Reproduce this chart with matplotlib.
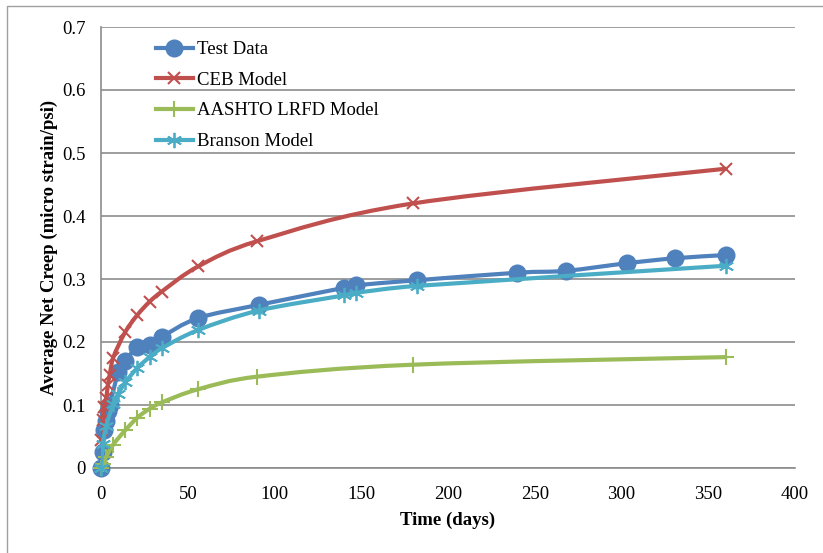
import numpy as np
import matplotlib
matplotlib.use("Agg")
import matplotlib.pyplot as plt
from matplotlib.path import Path
from matplotlib.patches import PathPatch
from matplotlib.lines import Line2D

# data
test_days = [0, 1, 2, 3, 4, 5, 10, 14, 21, 28, 35, 56, 91, 140, 147, 182, 240, 268, 303, 331, 360]
test_vals = [0, 0.025, 0.06, 0.075, 0.09, 0.10, 0.152, 0.170, 0.192, 0.195, 0.208, 0.238, 0.259,
             0.286, 0.290, 0.298, 0.310, 0.313, 0.325, 0.333, 0.338]

ceb_days = [0, 1, 2, 3, 4, 5, 7, 14, 21, 28, 35, 56, 90, 180, 360]
ceb_vals = [0.045, 0.076, 0.097, 0.111, 0.132, 0.148, 0.175, 0.216, 0.243, 0.264, 0.280, 0.320,
            0.360, 0.420, 0.475]

aashto_days = [0, 1, 3, 7, 14, 21, 28, 35, 56, 90, 180, 360]
aashto_vals = [0, 0.007, 0.018, 0.037, 0.060, 0.080, 0.094, 0.104, 0.125, 0.145, 0.164, 0.176]

branson_days = [0, 1, 3, 7, 10, 14, 21, 28, 35, 56, 91, 140, 147, 182, 360]
branson_vals = [0, 0.038, 0.067, 0.101, 0.118, 0.136, 0.159, 0.176, 0.190, 0.219, 0.250,
                0.274, 0.278, 0.289, 0.321]

labels = ["Test Data", "CEB Model", "AASHTO LRFD Model", "Branson Model"]
colours = ["#4F81BD", "#C0504D", "#9BBB59", "#4BACC6"]


def smooth_path(x, y):
    # excel style smoothed line: catmull-rom turned into bezier segments
    x = np.asarray(x, float)
    y = np.asarray(y, float)
    n = len(x)
    verts = [(x[0], y[0])]
    codes = [Path.MOVETO]
    for i in range(n - 1):
        p0 = max(i - 1, 0)
        p3 = min(i + 2, n - 1)
        seg = x[i + 1] - x[i]
        t1 = np.array([x[i + 1] - x[p0], y[i + 1] - y[p0]]) / 6
        t2 = np.array([x[p3] - x[i], y[p3] - y[i]]) / 6
        if t1[0] > seg * 0.5:
            t1 *= seg * 0.5 / t1[0]
        if t2[0] > seg * 0.5:
            t2 *= seg * 0.5 / t2[0]
        verts += [(x[i] + t1[0], y[i] + t1[1]),
                  (x[i + 1] - t2[0], y[i + 1] - t2[1]),
                  (x[i + 1], y[i + 1])]
        codes += [Path.CURVE4] * 3
    return Path(verts, codes)


fig = plt.figure(figsize=(8.23, 5.53), dpi=100)
ax = fig.add_axes([101 / 823, 1 - 468 / 553, 694 / 823, 441 / 553])

plt.rcParams['font.family'] = ['Liberation Serif', 'DejaVu Serif']
serif = ['Liberation Serif', 'DejaVu Serif']

series = [
    (test_days, test_vals, dict(marker='o', ms=13, mew=0)),
    (ceb_days, ceb_vals, dict(marker='x', ms=9, mew=1.5)),
    (aashto_days, aashto_vals, dict(marker='+', ms=11, mew=1.5)),
    (branson_days, branson_vals, dict(marker=(6, 2, 0), ms=11, mew=1.3)),
]

handles = []
for i, (d, v, mk) in enumerate(series):
    c = colours[i]
    ax.add_patch(PathPatch(smooth_path(d, v), fill=False, edgecolor=c, lw=3,
                           capstyle='round', joinstyle='round', zorder=3 + 2 * i))
    ax.plot(d, v, ls='none', color=c, mec=c, clip_on=False, zorder=4 + 2 * i, **mk)
    handles.append(Line2D([], [], color=c, lw=3, mec=c, **mk))

ax.set_xlim(0, 400)
ax.set_ylim(0, 0.7)
ax.set_xticks(np.arange(0, 401, 50))
ax.set_yticks(np.arange(0, 0.71, 0.1))
ax.set_yticklabels(["0", "0.1", "0.2", "0.3", "0.4", "0.5", "0.6", "0.7"])

ax.grid(axis='y', color='#8c8c8c', lw=1.2)
ax.set_axisbelow(True)
for s in ['top', 'right']:
    ax.spines[s].set_visible(False)
for s in ['left', 'bottom']:
    ax.spines[s].set_color('#8c8c8c')
    ax.spines[s].set_linewidth(1.2)

ax.tick_params(axis='y', length=0, labelsize=13.5, pad=11)
ax.tick_params(axis='x', length=0, labelsize=13.5, pad=13)
for lab in ax.get_xticklabels() + ax.get_yticklabels():
    lab.set_family(serif)

ax.set_xlabel("Time (days)", fontsize=13.5, fontweight='bold', family=serif, labelpad=6)
ax.set_ylabel("Average Net Creep (micro strain/psi)", fontsize=13.5, fontweight='bold',
              family=serif, labelpad=3)

ax.legend(handles, labels, loc='upper left', bbox_to_anchor=(0.068, 0.985), frameon=False,
          prop={'family': serif, 'size': 13.5}, handlelength=2.0, handletextpad=0.2,
          labelspacing=0.72, borderaxespad=0)

# outer chart frame
fig.add_artist(Line2D([7 / 823, 7 / 823, 1], [0, 1 - 6 / 553, 1 - 6 / 553],
                      transform=fig.transFigure, color='#a0a0a0', lw=1))

fig.savefig("out.png", dpi=100)
